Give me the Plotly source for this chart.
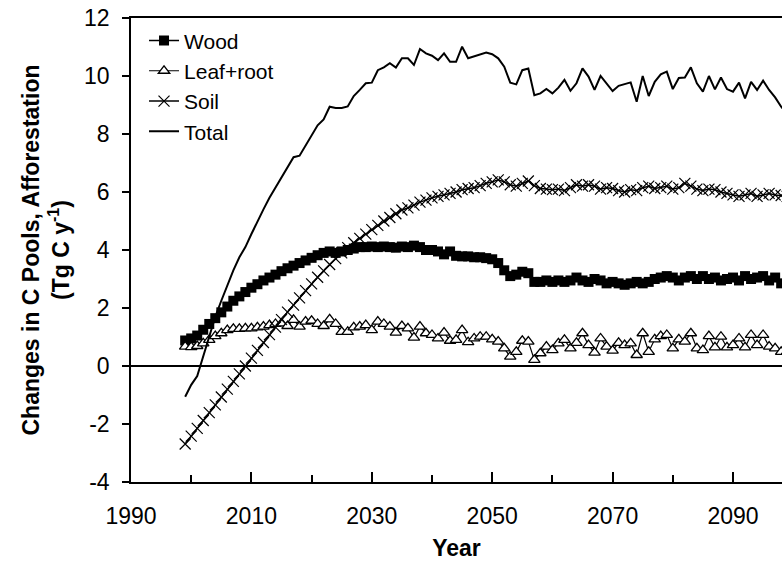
import plotly.graph_objects as go

# Annual changes in carbon pools under afforestation (Tg C per year)
years = list(range(1999, 2100))

wood = [0.88, 0.95, 1.05, 1.25, 1.45, 1.65, 1.85, 2.05, 2.25, 2.40,
        2.55, 2.70, 2.82, 2.95, 3.05, 3.15, 3.27, 3.37, 3.46, 3.55,
        3.64, 3.73, 3.82, 3.90, 3.95, 3.90, 3.95, 4.00, 4.05, 4.10,
        4.10, 4.12, 4.10, 4.12, 4.10, 4.08, 4.12, 4.10, 4.15, 4.10,
        4.00, 4.00, 3.95, 3.85, 3.95, 3.80, 3.78, 3.78, 3.75, 3.75,
        3.72, 3.68, 3.55, 3.30, 3.10, 3.15, 3.25, 3.20, 2.90, 2.90,
        2.95, 2.90, 2.95, 2.90, 2.95, 3.05, 2.95, 2.90, 3.00, 2.95,
        2.85, 2.90, 2.85, 2.80, 2.85, 2.90, 2.85, 2.90, 3.00, 3.05,
        3.10, 3.05, 2.95, 3.05, 3.10, 3.00, 3.10, 3.00, 3.05, 2.95,
        3.00, 3.05, 2.95, 3.10, 3.00, 3.05, 3.10, 2.95, 3.05, 2.85,
        2.70]

leaf_root = [0.67, 0.65, 0.69, 0.78, 0.90, 1.03, 1.13, 1.24, 1.28, 1.28,
             1.30, 1.30, 1.33, 1.36, 1.41, 1.45, 1.47, 1.38, 1.59, 1.36,
             1.53, 1.56, 1.45, 1.38, 1.61, 1.45, 1.18, 1.18, 1.33, 1.36,
             1.41, 1.24, 1.53, 1.45, 1.36, 1.15, 1.38, 1.30, 0.98, 1.36,
             1.13, 1.07, 0.95, 1.15, 0.87, 0.90, 1.24, 0.82, 0.95, 1.01,
             1.01, 0.92, 0.84, 0.61, 0.32, 0.49, 0.87, 0.84, 0.21, 0.44,
             0.67, 0.55, 0.78, 0.90, 0.61, 0.80, 1.13, 0.72, 0.46, 0.95,
             0.67, 0.53, 0.80, 0.72, 0.78, 0.38, 1.13, 0.49, 0.92, 1.03,
             1.07, 0.61, 0.92, 0.84, 1.13, 0.61, 0.55, 1.03, 0.64, 1.01,
             0.64, 0.72, 0.95, 0.64, 1.07, 0.72, 1.07, 0.67, 0.61, 0.49,
             0.50]

soil = [-2.69, -2.42, -2.15, -1.88, -1.61, -1.34, -1.07, -0.80, -0.53, -0.27,
        0.00, 0.27, 0.54, 0.81, 1.08, 1.34, 1.60, 1.86, 2.10, 2.35,
        2.60, 2.83, 3.06, 3.28, 3.50, 3.70, 3.90, 4.08, 4.25, 4.40,
        4.55, 4.70, 4.85, 5.00, 5.12, 5.25, 5.38, 5.45, 5.55, 5.65,
        5.72, 5.80, 5.85, 5.90, 5.95, 6.00, 6.08, 6.12, 6.15, 6.22,
        6.30, 6.35, 6.42, 6.35, 6.25, 6.20, 6.30, 6.38, 6.22, 6.12,
        6.10, 6.08, 6.10, 6.05, 6.15, 6.25, 6.20, 6.25, 6.20, 6.10,
        6.15, 6.12, 6.05, 6.00, 6.08, 6.05, 6.15, 6.20, 6.12, 6.15,
        6.20, 6.10, 6.15, 6.30, 6.20, 6.10, 6.05, 6.10, 6.08, 6.00,
        5.95, 5.90, 5.85, 5.90, 5.95, 5.85, 5.90, 5.95, 5.90, 5.88,
        5.85]

total = [-1.06, -0.65, -0.35, 0.32, 1.00, 1.70, 2.25, 2.80, 3.30, 3.75,
         4.10, 4.55, 5.00, 5.40, 5.80, 6.15, 6.45, 6.80, 7.20, 7.25,
         7.60, 7.97, 8.30, 8.50, 8.94, 8.90, 8.90, 8.95, 9.31, 9.52,
         9.75, 9.77, 10.20, 10.30, 10.44, 10.29, 10.61, 10.61, 10.38, 10.93,
         10.78, 10.70, 10.55, 10.78, 10.49, 10.49, 11.01, 10.61, 10.67, 10.75,
         10.81, 10.75, 10.61, 10.32, 9.77, 9.71, 10.20, 10.26, 9.34, 9.40,
         9.55, 9.40, 9.60, 9.87, 9.49, 9.75, 10.26, 9.98, 9.52, 10.00,
         9.75, 9.48, 9.66, 9.72, 9.78, 9.11, 10.00, 9.31, 9.80, 10.06,
         10.15, 9.55, 9.93, 9.95, 10.30, 9.75, 9.46, 10.00, 9.54, 9.95,
         9.55, 9.46, 9.77, 9.23, 9.80, 9.52, 9.84, 9.52, 9.26, 8.94,
         8.70]

x_ticks = [1990, 2010, 2030, 2050, 2070, 2090]
y_ticks = [-4, -2, 0, 2, 4, 6, 8, 10, 12]
y_range = [-4, 12]

FONT = "Liberation Sans, Arial, Helvetica, sans-serif"

fig = go.Figure()

fig.add_trace(go.Scatter(
    x=years, y=wood, name="Wood", mode="lines+markers",
    line=dict(color="black", width=1.5),
    marker=dict(symbol="square", size=10, color="black"),
))
fig.add_trace(go.Scatter(
    x=years, y=leaf_root, name="Leaf+root", mode="lines+markers",
    line=dict(color="black", width=1.2),
    marker=dict(symbol="triangle-up", size=10, color="white",
                line=dict(color="black", width=1.3)),
))
fig.add_trace(go.Scatter(
    x=years, y=soil, name="Soil", mode="lines+markers",
    line=dict(color="black", width=1.5),
    marker=dict(symbol="x-thin", size=11, line=dict(color="black", width=1.2)),
))
fig.add_trace(go.Scatter(
    x=years, y=total, name="Total", mode="lines",
    line=dict(color="black", width=2),
))

fig.update_layout(
    width=782, height=574,
    margin=dict(l=131, r=0, t=18, b=92),
    paper_bgcolor="white", plot_bgcolor="white",
    font=dict(family=FONT, color="black", size=21),
    showlegend=True,
    legend=dict(x=0.02, y=0.995, xanchor="left", yanchor="top",
                bgcolor="rgba(0,0,0,0)", font=dict(size=21),
                itemwidth=30, tracegroupgap=0),
    xaxis=dict(
        range=[1990, 1990 + 651 / 6.02],
        tickmode="array", tickvals=x_ticks, ticktext=[str(v) for v in x_ticks],
        ticks="inside", ticklen=10, tickwidth=1.5, tickcolor="black",
        minor=dict(tickmode="linear", tick0=1990, dtick=10, ticks="inside",
                   ticklen=7, tickwidth=1.5, tickcolor="black"),
        showline=True, linecolor="black", linewidth=1.5, mirror=True,
        showgrid=False, zeroline=False,
        tickfont=dict(size=23), ticklabelstandoff=13,
        title=dict(text="<b>Year</b>", font=dict(size=23), standoff=12),
    ),
    yaxis=dict(
        range=y_range,
        tickmode="array", tickvals=y_ticks, ticktext=[str(v) for v in y_ticks],
        ticks="outside", ticklen=7, tickwidth=1.5, tickcolor="black",
        showline=True, linecolor="black", linewidth=1.5,
        showgrid=False,
        zeroline=True, zerolinecolor="black", zerolinewidth=1.5,
        tickfont=dict(size=23), ticklabelstandoff=8,
        title=dict(text="<b>Changes in C Pools, Afforestation<br>(Tg C y<sup>-1</sup>)</b>",
                   font=dict(size=23), standoff=8),
    ),
    # companion axis that carries the short inward ticks of the value axis
    yaxis2=dict(overlaying="y", side="left", range=y_range,
                tickmode="array", tickvals=y_ticks, showticklabels=False,
                ticks="inside", ticklen=5, tickwidth=1.5, tickcolor="black",
                showline=False, showgrid=False, zeroline=False),
)

fig.write_html("out.html")
